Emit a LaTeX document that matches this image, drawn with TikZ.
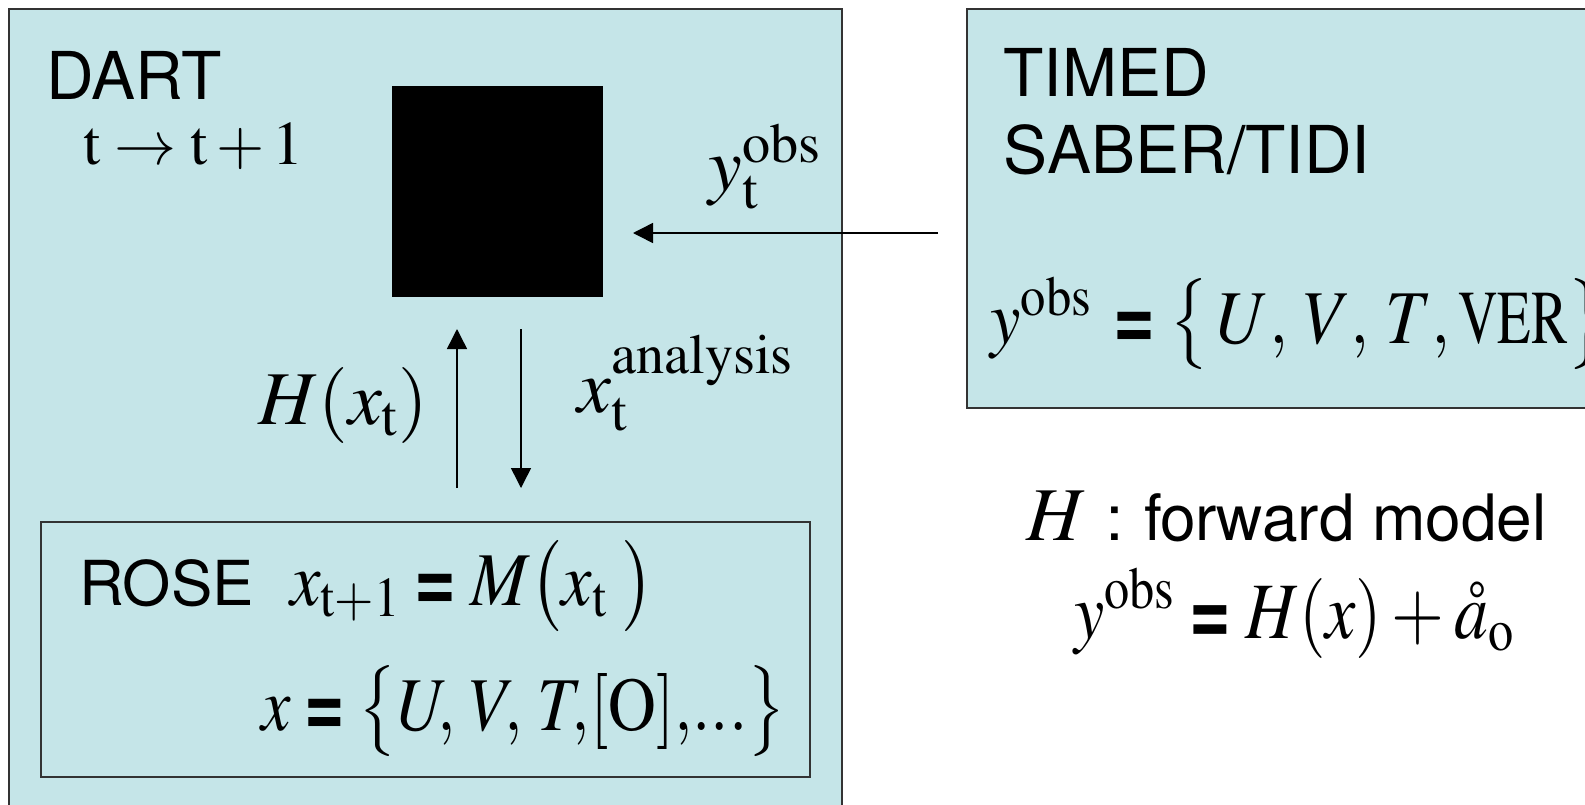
\documentclass[tikz,border=0pt]{standalone}
\usepackage[T1]{fontenc}
\usepackage{mathptmx}
\usepackage{helvet}
\usetikzlibrary{arrows.meta}

\definecolor{panelblue}{RGB}{197,229,232}
\newcommand{\sz}[1]{\fontsize{#1}{#1}\selectfont}
\newcommand{\eqsign}{\mathrel{\textsf{\bfseries =}}}
\newcommand{\narrow}[2][0.87]{\scalebox{#1}[1]{#2}}
\newcommand{\cm}{\mkern-3mu{,}}

\tikzset{
  panel/.style={draw=black!80, line width=0.8pt, fill=panelblue, anchor=north west, inner sep=0},
  lbl/.style={anchor=base west, inner sep=0},
  head/.style={lbl, font=\sffamily\sz{33}},
  arr/.style={line width=0.75pt, -{Triangle[length=10pt,width=10pt]}},
}

\begin{document}
\begin{tikzpicture}[x=0.5pt,y=-0.5pt]
    \useasboundingbox (0,0) rectangle (1585,804);
    \clip (0,0) rectangle (1585,804);

    % Panels
    \node[panel, minimum width=416.5pt, minimum height=411pt] (dart) at (8,8) {};
    \node[panel, minimum width=317pt, minimum height=199.5pt] (timed) at (966,8) {};
    \node[panel, minimum width=384.5pt, minimum height=127.5pt] (rose) at (40,521) {};

    % Filter (black square)
    \node[fill=black, minimum size=105.5pt, inner sep=0] (filter) at (497.5,191.5) {};

    % DART panel
    \node[head] (dartlbl) at (46,99) {DART};
    \node[lbl, font=\sz{31}] (tstep) at (83,164) {$\mathrm{t}\rightarrow\mathrm{t}+1$};
    \node[lbl, font=\sz{38}] (yobs) at (708,190) {$y_{\mathrm{t}}^{\mathrm{obs}}$};
    \node[lbl, font=\sz{38}] (hx) at (258,424) {$H(x_{\mathrm{t}})$};
    \node[lbl, font=\sz{38}] (xan) at (577,412) {$x_{\mathrm{t}}^{\mathrm{analysis}}$};

    % ROSE panel
    \node[head, font=\sffamily\sz{31}] (roselbl) at (79,605) {ROSE};
    \node[lbl, font=\sz{38}] (model) at (290,605) {\narrow[0.9]{$x_{\mathrm{t}+1}\eqsign M\bigl(x_{\mathrm{t}}\;\bigr)$}};
    \node[lbl, font=\sz{38}] (xset) at (261,730) {\narrow{$x \eqsign \bigl\{U\cm\;V\cm\;T\cm[\mathrm{O}]{,}...\bigr\}$}};

    % TIMED panel
    \node[head] (timedlbl) at (1003,96) {TIMED};
    \node[head] (saberlbl) at (1003,173) {SABER/TIDI};
    \node[lbl, font=\sz{38}] (yset) at (990,343) {\narrow[0.9]{$y^{\mathrm{obs}}\,\eqsign\bigl\{\,U{,}\;V{,}\;T{,}\,\narrow[0.8]{$\mathrm{VER}$}\bigr\}$}};

    % Forward model
    \node[lbl, font=\sffamily\sz{32}] (fwd) at (1026,540) {{\sz{38}$H$} : forward model};
    \node[lbl, font=\sz{40}] (obseq) at (1074,638) {\narrow[0.85]{$y^{\mathrm{obs}} \eqsign H(x)+\textit{\aa}_{\mathrm{o}}$}};

    % Arrows
    \coordinate (obsfrom) at (938,233);
    \coordinate (obsto) at (633,233);
    \coordinate (fwdfrom) at (457,488);
    \coordinate (fwdto) at (457,329);
    \coordinate (anafrom) at (521,329);
    \coordinate (anato) at (521,488);
    \draw[arr] (obsfrom) -- (obsto);
    \draw[arr] (fwdfrom) -- (fwdto);
    \draw[arr] (anafrom) -- (anato);
\end{tikzpicture}
\end{document}
